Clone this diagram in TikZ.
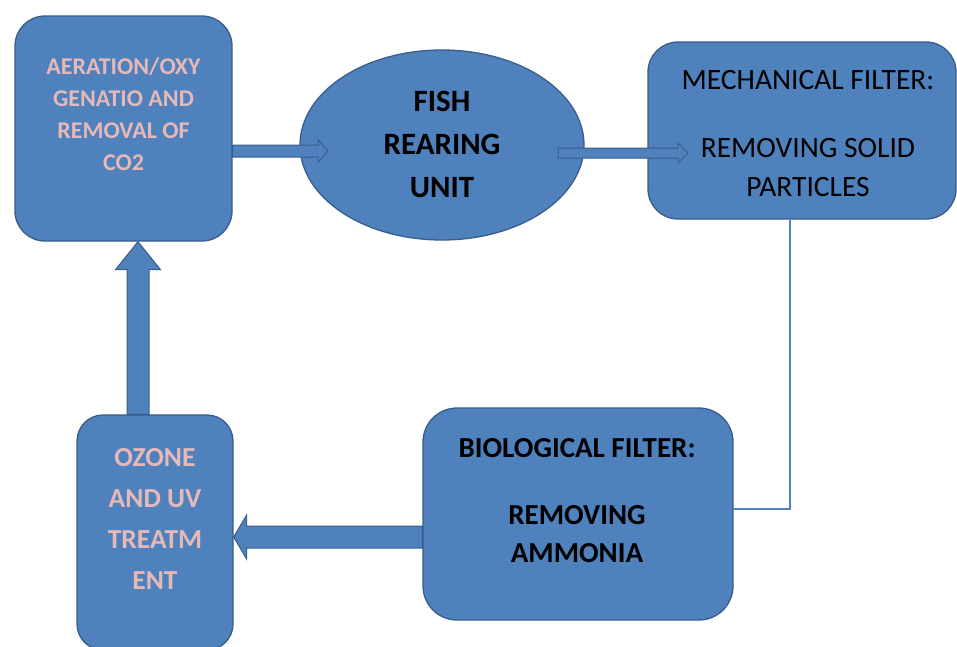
\documentclass[tikz,border=0pt]{standalone}
\usepackage{fontspec}
\setmainfont{Carlito}
\usetikzlibrary{calc,shapes.geometric}
\definecolor{boxfill}{HTML}{4F81BD}
\definecolor{boxline}{HTML}{385D8A}
\definecolor{pinktxt}{HTML}{E6B9B8}
\tikzset{
  box/.style={draw=boxline, fill=boxfill, line width=1.3pt, inner sep=0pt, rectangle},
  barrow/.style={draw=boxline, fill=boxfill, line width=1pt, line join=miter},
  thinline/.style={draw=boxfill, line width=1.1pt},
  pinklbl/.style={text=pinktxt, align=center, inner sep=0pt},
  blacklbl/.style={text=black, align=center, inner sep=0pt},
}
\newcommand\harrow[5]{%
  \draw[barrow] let \p1=(#1), \p2=(#2) in
  (\x1,\y1+#3) -- (\x2-#5,\y1+#3) -- (\x2-#5,\y1+#4) -- (\x2,\y1) --
  (\x2-#5,\y1-#4) -- (\x2-#5,\y1-#3) -- (\x1,\y1-#3) -- cycle;}
\newcommand\varrow[5]{%
  \draw[barrow] let \p1=(#1), \p2=(#2) in
  (\x1+#3,\y1) -- (\x1+#3,\y2-#5) -- (\x1+#4,\y2-#5) -- (\x1,\y2) --
  (\x1-#4,\y2-#5) -- (\x1-#3,\y2-#5) -- (\x1-#3,\y1) -- cycle;}
\begin{document}
\begin{tikzpicture}[x=1pt,y=-1pt]
\useasboundingbox (0,0) rectangle (957,646);
% boxes
\node[box, rounded corners=30pt, minimum width=217pt, minimum height=225pt] (aer) at (123.5,128.5) {};
\node[box, rounded corners=30pt, minimum width=308pt, minimum height=177pt] (mech) at (802,130.5) {};
\node[box, rounded corners=34pt, minimum width=310pt, minimum height=212pt] (bio) at (578,514) {};
\node[box, rounded corners=26pt, minimum width=156pt, minimum height=235pt] (ozone) at (155,532.5) {};
\node[draw=boxline, fill=boxfill, line width=1.3pt, ellipse, inner sep=0pt,
      minimum width=284pt, minimum height=190pt] (fish) at (442,145) {};
% connector coordinates
\coordinate (a1s) at (aer.east |- 0,151);
\coordinate (a1e) at (328,151);
\coordinate (a2s) at (558,153);
\coordinate (a2e) at (688,153);
\coordinate (vx) at (138,0);
\coordinate (a3s) at (ozone.north -| vx);
\coordinate (a3e) at (aer.south -| vx);
\coordinate (hy) at (0,537);
\coordinate (a4s) at (bio.west |- hy);
\coordinate (a4e) at (ozone.east |- hy);
\coordinate (lx) at (790,0);
\coordinate (ly) at (0,509);
% connectors
\harrow{a1s}{a1e}{6pt}{11.5pt}{10pt}
\harrow{a2s}{a2e}{5pt}{10pt}{10pt}
\varrow{a3s}{a3e}{11pt}{22.5pt}{28pt}
\harrow{a4s}{a4e}{11pt}{22pt}{-13pt}
\draw[thinline] (mech.south -| lx) |- (bio.east |- ly);
% texts
\node[pinklbl, font=\bfseries\fontsize{24}{32}\selectfont] (aerT) at (123.5,114)
  {AERATION/OXY\\GENATIO AND\\REMOVAL OF\\CO2};
\node[blacklbl, font=\bfseries\fontsize{31}{43}\selectfont] (fishT) at (442,144)
  {FISH\\REARING\\UNIT};
\node[blacklbl, font=\fontsize{29.5}{39}\selectfont] (mechT) at (808,133.5)
  {MECHANICAL FILTER:\\[29pt]REMOVING SOLID\\PARTICLES};
\node[blacklbl, font=\bfseries\fontsize{29}{38}\selectfont] (bioT) at (577,500.5)
  {BIOLOGICAL FILTER:\\[29pt]REMOVING\\AMMONIA};
\node[pinklbl, font=\bfseries\fontsize{27.5}{41}\selectfont] (ozoneT) at (155,518.5)
  {OZONE\\AND UV\\TREATM\\ENT};
\end{tikzpicture}
\end{document}
